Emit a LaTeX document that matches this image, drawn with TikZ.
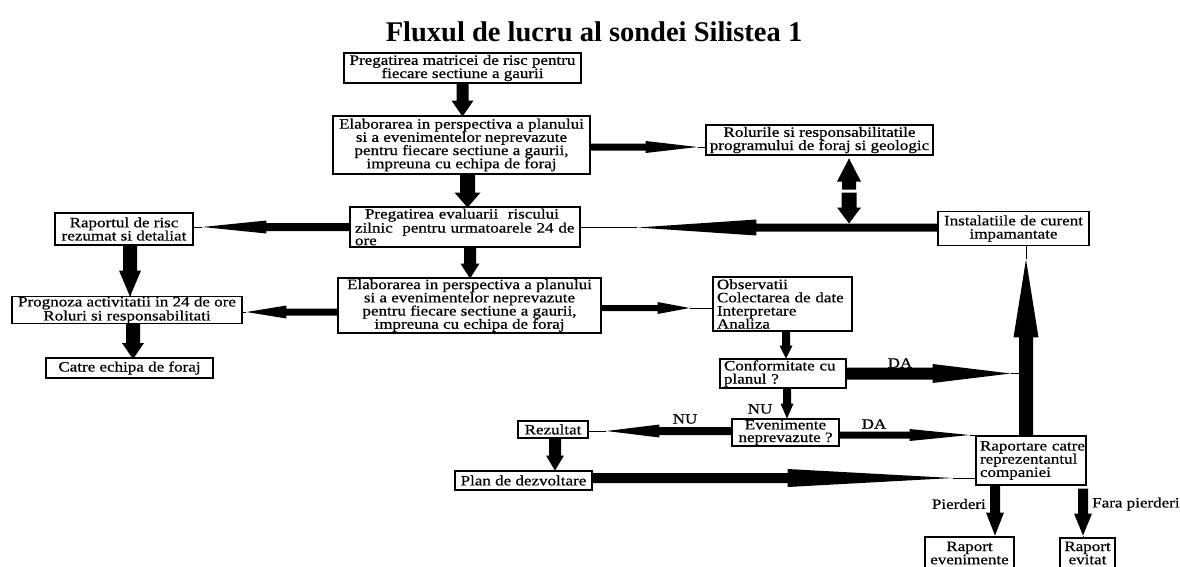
\documentclass[tikz,border=0pt]{standalone}
\usepackage{fontspec}
\setmainfont{Liberation Serif}
\newfontfamily\bxf{Liberation Serif}[FakeStretch=1.19,FakeBold=0.6]
\usetikzlibrary{calc}
\tikzset{
  box/.style={draw=black, line width=1.1pt, inner sep=0pt, align=center, font={\bxf\fontsize{14.3}{13.2}\selectfont}},
  lbox/.style={box, align=left},
  lbl/.style={inner sep=0pt, font={\bxf\fontsize{14.3}{13.2}\selectfont}},
  thinln/.style={line width=1pt},
}
% block arrow: start, end, half shaft, half head, head base dist, tip dist
\newcommand{\blk}[6]{%
  \path (#1) coordinate (bkS) (#2) coordinate (bkE);
  \path ($(bkS)!#5!(bkE)$) coordinate (bkB) ($(bkS)!#6!(bkE)$) coordinate (bkT);
  \fill ($(bkS)!#3!90:(bkE)$) -- ($(bkB)!#3!90:(bkE)$) -- ($(bkB)!#4!90:(bkE)$) -- (bkT)
    -- ($(bkB)!#4!-90:(bkE)$) -- ($(bkB)!#3!-90:(bkE)$) -- ($(bkS)!#3!-90:(bkE)$) -- cycle;
  \draw[thinln] (bkT) -- (bkE);
}
\begin{document}
\begin{tikzpicture}[x=1pt,y=-1pt]
\useasboundingbox (0,0) rectangle (1180,566);
\fill[white] (0,0) rectangle (1180,566);

\node[inner sep=0pt, font={\fontsize{28.5}{30}\selectfont\bfseries}] (title) at (594,31.5) {Fluxul de lucru al sondei Silistea 1};

\node[box, minimum width=237, minimum height=30] (A) at (462.5,68) {Pregatirea matricei de risc pentru\\fiecare sectiune a gaurii};
\node[box, minimum width=257, minimum height=58] (B) at (461.5,145) {Elaborarea in perspectiva a planului\\si a evenimentelor neprevazute\\pentru fiecare sectiune a gaurii,\\impreuna cu echipa de foraj};
\node[box, minimum width=227, minimum height=30] (Rol) at (819.5,140) {Rolurile si responsabilitatile\\programului de foraj si geologic};
\node[lbox, minimum width=230, minimum height=40, text width=220, font={\bxf\fontsize{14.3}{12.6}\selectfont}] (C) at (465,227) {\mbox{\hspace*{10pt}Pregatirea evaluarii\ \ riscului}\\\mbox{zilnic\ \ pentru urmatoarele 24 de}\\\mbox{ore}};
\node[box, minimum width=151, minimum height=34] (Inst) at (1013.5,228.5) {Instalatiile de curent\\impamantate};
\node[box, minimum width=138, minimum height=32] (Rpt) at (124,229) {Raportul de risc\\rezumat si detaliat};
\node[box, minimum width=263, minimum height=55] (D) at (469.5,305.5) {Elaborarea in perspectiva a planului\\si a evenimentelor neprevazute\\pentru fiecare sectiune a gaurii,\\impreuna cu echipa de foraj};
\node[box, minimum width=230, minimum height=26, font={\bxf\fontsize{14.3}{12.2}\selectfont}] (Prog) at (127,310) {Prognoza activitatii in 24 de ore\\Roluri si responsabilitati};
\node[box, minimum width=167, minimum height=20] (Catre) at (129.5,368) {Catre echipa de foraj};
\node[lbox, minimum width=139, minimum height=54, text width=131] (Obs) at (782.5,304) {\mbox{Observatii}\\\mbox{Colectarea de date}\\\mbox{Interpretare}\\\mbox{Analiza}};
\node[lbox, minimum width=126, minimum height=29, text width=118] (Conf) at (783,373.5) {\mbox{Conformitate cu}\\\mbox{planul ?}};
\node[box, minimum width=107, minimum height=27, font={\bxf\fontsize{14.3}{12.6}\selectfont}] (Even) at (785.5,432.5) {Evenimente\\neprevazute ?};
\node[box, minimum width=70, minimum height=17] (Rez) at (553,429.5) {Rezultat};
\node[box, minimum width=137, minimum height=19] (Plan) at (523.5,480.5) {Plan de dezvoltare};
\node[lbox, minimum width=110, minimum height=49, text width=102] (Rap) at (1031,460.5) {\mbox{Raportare catre}\\\mbox{reprezentantul}\\\mbox{companiei}};
\node[box, minimum width=89, minimum height=44] (RapEv) at (969.5,559) {};
\node[lbl, align=center] (RapEvT) at (969.5,553) {Raport\\evenimente};
\node[box, minimum width=55, minimum height=44] (RapEvit) at (1087.5,560) {};
\node[lbl, align=center] (RapEvitT) at (1087.5,553) {Raport\\evitat};

% labels
\node[lbl] (da1) at (900,363) {DA};
\node[lbl] (nu1) at (760,409) {NU};
\node[lbl] (nu2) at (685,419) {NU};
\node[lbl] (da2) at (874,424) {DA};
\node[lbl, anchor=east] (pier) at (986,504) {Pierderi};
\node[lbl, anchor=west] (fara) at (1092,504) {Fara pierderi};

% helper coordinates
\coordinate (jx) at ($(Rol.south)+(29.5,0)$);
\coordinate (jy) at ($(jx |- Inst.west)+(0,-1)$);
\coordinate (vx) at ($(Rap.north)+(-5,0)$);

% arrows
\blk{A.south}{A.south |- B.north}{6pt}{11pt}{17pt}{33pt}
\blk{$(B.south)+(6,0)$}{$(B.south |- C.north)+(6,0)$}{7.5pt}{13pt}{18pt}{33pt}
\blk{$(C.south)+(5,0)$}{$(C.south |- D.north)+(5,0)$}{6pt}{9.5pt}{16pt}{31pt}
\blk{C.west}{C.west -| Rpt.east}{4pt}{6.5pt}{83pt}{147pt}
\blk{$(Inst.west)+(0,-1)$}{$(Inst.west -| C.east)+(0,-1)$}{4pt}{8pt}{181pt}{300pt}
\blk{$(jy)+(0,-38)$}{$(jx)+(0,4)$}{7pt}{12pt}{8pt}{31pt}
\blk{$(jy)+(0,-35)$}{$(jy)+(0,-4)$}{7.5pt}{12pt}{15pt}{31pt}
\blk{$(B.east)+(0,2)$}{$(B.east -| Rol.west)+(0,2)$}{3.5pt}{6pt}{55pt}{107pt}
\blk{$(D.west)+(0,6.5)$}{$(D.west -| Prog.east)+(0,6.5)$}{3.5pt}{6.5pt}{51pt}{91pt}
\blk{$(Rpt.south)+(6,0)$}{$(Rpt.south |- Prog.north)+(6,-1)$}{7pt}{11pt}{25pt}{51pt}
\blk{$(Prog.south)+(6,0)$}{$(Prog.south |- Catre.north)+(6,0)$}{7pt}{11pt}{19pt}{35pt}
\blk{$(D.east)+(0,2.5)$}{$(D.east -| Obs.west)+(0,2.5)$}{3pt}{6pt}{56pt}{88pt}
\blk{$(Obs.south)+(3.5,0)$}{$(Obs.south |- Conf.north)+(3.5,0)$}{4pt}{6.5pt}{14pt}{27pt}
\blk{$(Conf.south)+(4,0)$}{$(Conf.south |- Even.north)+(4,0)$}{4pt}{6.5pt}{15pt}{30pt}
\blk{vx}{vx |- Inst.south}{7pt}{12.5pt}{98pt}{176pt}
\blk{Conf.east}{$(Conf.east -| vx)+(-7,0)$}{6pt}{9.5pt}{86pt}{164pt}
\blk{$(Even.west)+(0,-1.5)$}{$(Even.west -| Rez.east)+(0,-1.5)$}{4pt}{6.5pt}{72pt}{125pt}
\blk{$(Even.east)+(0,2.5)$}{$(Even.east -| Rap.west)+(0,2.5)$}{3.5pt}{6pt}{70pt}{130pt}
\blk{$(Rez.south)+(2,0)$}{$(Rez.south |- Plan.north)+(2,0)$}{6pt}{9pt}{17pt}{32pt}
\blk{$(Plan.east)+(0,-2.5)$}{$(Plan.east -| Rap.west)+(0,-2.5)$}{5pt}{9pt}{195pt}{360pt}
\blk{$(Rap.south)+(-36,0)$}{$(Rap.south |- RapEv.north)+(-36,0)$}{5pt}{9pt}{27pt}{50pt}
\blk{$(RapEvit.north |- Rap.south)+(-4.5,3)$}{$(RapEvit.north)+(-4.5,0)$}{5pt}{9pt}{25pt}{47pt}
\end{tikzpicture}
\end{document}
